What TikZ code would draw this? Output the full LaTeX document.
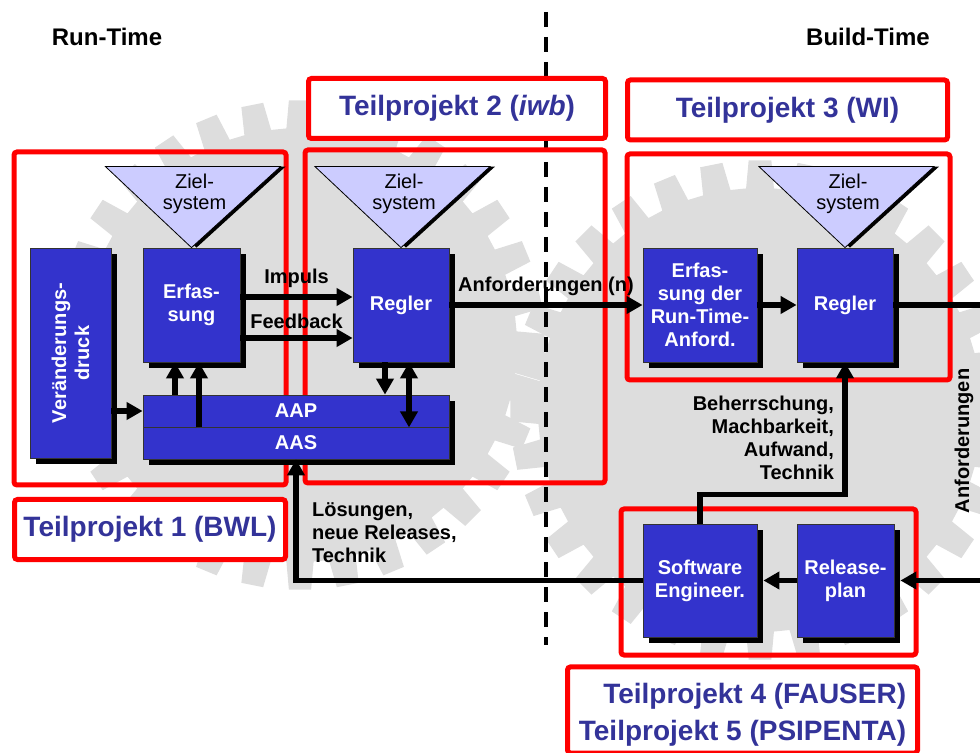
\documentclass[tikz,border=0pt]{standalone}
\usepackage{fontspec}
\setmainfont{Liberation Sans}
\usepackage{xcolor}
\definecolor{boxblue}{RGB}{51,51,204}
\definecolor{tpblue}{RGB}{51,51,153}
\definecolor{zielfill}{RGB}{204,204,255}
\definecolor{gearc}{RGB}{221,221,221}
\usetikzlibrary{positioning,calc,shadows,arrows.meta}

\tikzset{
  bluebox/.style={draw=black!80, line width=0.4pt, fill=boxblue, text=white, align=center, inner sep=1pt,
    font=\bfseries\fontsize{10}{11.5}\selectfont,
    drop shadow={shadow xshift=3pt, shadow yshift=-3pt, fill=black, opacity=1}},
  tpframe/.style={draw=red, line width=2.5pt, rounded corners=1.5pt},
  tplabel/.style={tpframe, fill=white, text=tpblue, align=center, font=\bfseries\fontsize{14}{18.5}\selectfont},
  lbl/.style={font=\bfseries\fontsize{10}{11.5}\selectfont},
  zieltri/.style={draw=black, line width=0.4pt, fill=zielfill},
  arr/.style={line width=2.7pt, -{Triangle[length=8pt,width=8.5pt]}},
  arrboth/.style={line width=2.7pt, {Triangle[length=8pt,width=8.5pt]}-{Triangle[length=8pt,width=8.5pt]}},
  lnk/.style={line width=2.7pt},
}

\begin{document}
\begin{tikzpicture}[x=0.5pt, y=-0.5pt]
\useasboundingbox (0,0) rectangle (980,753);

% gears in the background
\foreach \cx/\cy/\ro in {300/345/245, 760/410/250}{
  \pgfmathsetmacro{\ri}{\ro-28}
  \begin{scope}[shift={(\cx,\cy)}]
    \fill[gearc] (-3.6:\ri) \foreach \i [evaluate=\i as \a using \i*11.25] in {0,...,31}{
      -- (\a-3.6:\ri) -- (\a-2.6:\ro) -- (\a+2.6:\ro) -- (\a+3.6:\ri)} -- cycle;
  \end{scope}
}

% run-time / build-time
\coordinate (sepT) at (546,12);
\coordinate (sepB) at (546,645);
\draw[line width=2pt, dash pattern=on 7.5pt off 5pt] (sepT) -- (sepB);
\node[font=\bfseries\fontsize{12}{14}\selectfont] (rt) at (107,37) {Run-Time};
\node[font=\bfseries\fontsize{12}{14}\selectfont] (bt) at (868,37) {Build-Time};

% Teilprojekte
\draw[tpframe] (14,152) rectangle (286,485);
\draw[tpframe] (305,150) rectangle (605,483);
\draw[tpframe] (627,154) rectangle (950,380);
\draw[tpframe] (621,509) rectangle (916,655);
\node[tplabel, minimum width=135.5pt, minimum height=30pt] (tp1) at (150,529.5) {Teilprojekt 1 (BWL)};
\node[tplabel, minimum width=148.5pt, minimum height=30pt] (tp2) at (457,108.5) {Teilprojekt 2 (\textit{iwb})};
\node[tplabel, minimum width=160pt, minimum height=30pt] (tp3) at (787.5,110) {Teilprojekt 3 (WI)};
\node[tplabel, minimum width=175pt, minimum height=39.5pt, align=right, text height=33.5pt] (tp45) at (742.5,710) {Teilprojekt 4 (FAUSER)\\Teilprojekt 5 (PSIPENTA)};

% blocks
\node[bluebox, minimum width=40.5pt, minimum height=105pt] (vd) at (70.5,353) {};
\node[lbl, text=white, rotate=90, align=center] (vdtext) at (vd) {Veränderungs-\\druck};
\node[bluebox, minimum width=48.5pt, minimum height=57pt] (erf1) at (191.5,305) {Erfas-\\sung};
\node[bluebox, minimum width=48pt, minimum height=57pt] (reg2) at (401,305) {Regler};
\node[bluebox, minimum width=153pt, minimum height=16pt] (aap) at (296,411) {AAP};
\node[bluebox, minimum width=153pt, minimum height=16pt] (aas) at (296,443) {AAS};
\node[bluebox, minimum width=57pt, minimum height=57pt] (erf3) at (700,305) {Erfas-\\sung der\\Run-Time-\\Anford.};
\node[bluebox, minimum width=48pt, minimum height=57pt] (reg3) at (845,305) {Regler};
\node[bluebox, minimum width=57pt, minimum height=56.5pt] (se) at (700,580.5) {Software\\Engineer.};
\node[bluebox, minimum width=48.5pt, minimum height=56.5pt] (rp) at (845.5,580.5) {Release-\\plan};

% Zielsysteme
\foreach \b in {erf1, reg2, reg3}{
  \fill[black] ([xshift=2.5pt]\b.north) -- ++(-86,-81) -- ++(175,0) -- cycle;
  \draw[zieltri] (\b.north) -- ++(-86,-81) -- ++(175,0) -- cycle;
  \node[font=\fontsize{10}{10.5}\selectfont, align=center] (zs-\b) at ($(\b.north)+(3,-54)$) {Ziel-\\system};
}

% connectors
\draw[arr] ([yshift=4pt]erf1.east) -- node[above, lbl] (impl) {Impuls} ([yshift=4pt]reg2.west);
\draw[arr] ([yshift=-16.5pt]erf1.east) -- node[above, lbl] (fbl) {Feedback} ([yshift=-16.5pt]reg2.west);
\draw[arr] (vd.east |- aap) -- (aap.west);
\coordinate (u1) at ($(erf1.south)+(-16.5,0)$);
\coordinate (u2) at ($(erf1.south)+(7.5,0)$);
\draw[arr] (u1 |- aap.north) -- (u1);
\draw[arr] (u2 |- aap.south) -- (u2);
\coordinate (d1) at ($(reg2.south)+(-16,0)$);
\coordinate (d2) at ($(reg2.south)+(8,0)$);
\draw[arr] (d1) -- (d1 |- aap.north);
\draw[arrboth] (d2) -- (d2 |- aap.south);
\draw[arr] (reg2.east) -- node[above, lbl] (anfn) {Anforderungen (n)} (erf3.west);
\draw[arr] (erf3.east) -- (reg3.west);
\coordinate (outR) at (985,305);
\draw[lnk] (reg3.east) -- (outR);
\coordinate (inR) at (985,580.5);
\draw[arr] (inR) -- ([xshift=3pt]rp.east);
\draw[arr] (rp.west) -- ([xshift=3pt]se.east);
\draw[arr] (se.west) -| (aas.south);
\draw[arr] (se.north) -- ++(0,-29) -| (reg3.south);

% labels
\node[lbl, align=right, anchor=east] (bmat) at (841,438) {Beherrschung,\\Machbarkeit,\\Aufwand,\\Technik};
\node[lbl, align=left, anchor=west] (loes) at (305,533) {Lösungen,\\neue Releases,\\Technik};
\node[lbl, rotate=90] (anfv) at (964,441) {Anforderungen};
\end{tikzpicture}
\end{document}
